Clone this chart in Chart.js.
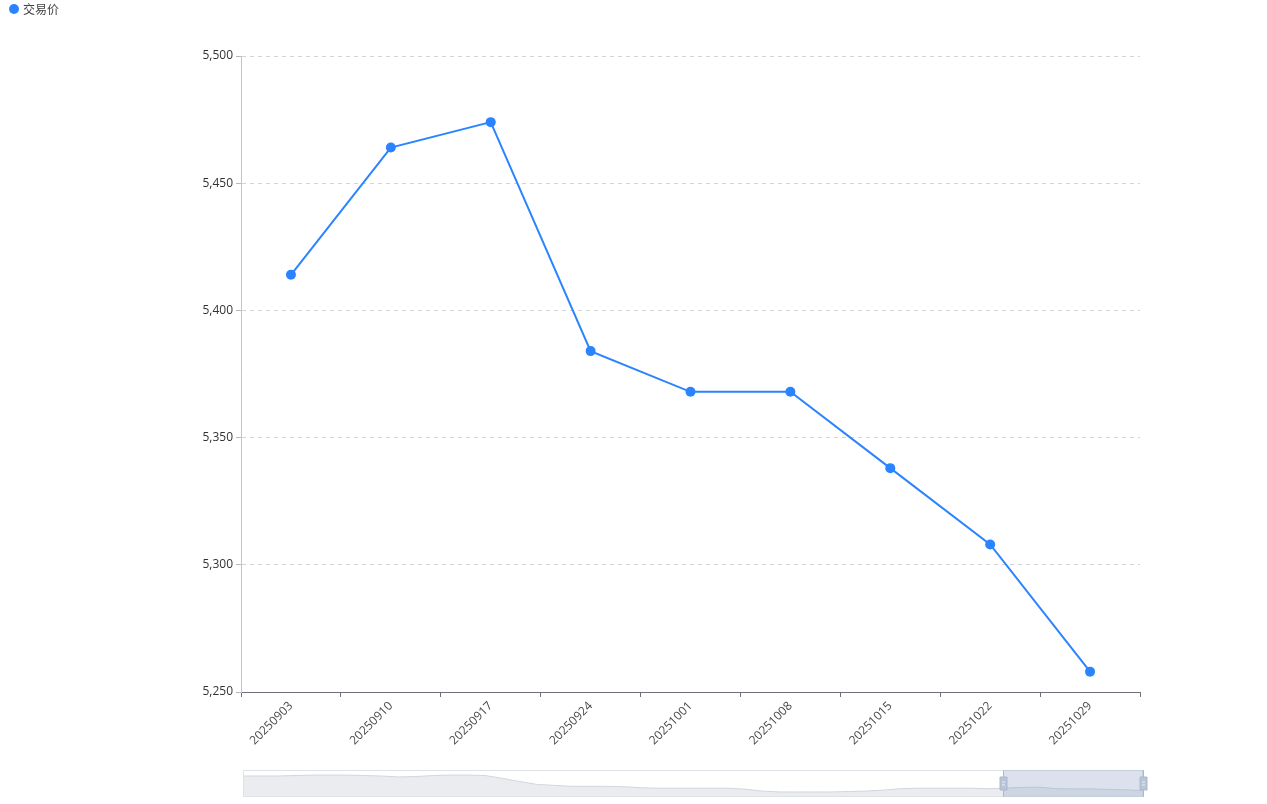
<!DOCTYPE html>
<html>
<head>
<meta charset="utf-8">
<script src="https://cdn.jsdelivr.net/npm/chart.js@4/dist/chart.umd.min.js"></script>
<style>
  html, body { margin: 0; padding: 0; background: #fff; width: 1267px; height: 804px; overflow: hidden; }
  #main { position: absolute; left: 0; top: 0; }
  #overview { position: absolute; left: 238px; top: 768px; z-index: 2; }
  #legend { position: absolute; left: 9px; top: 1px; height: 16px; display: flex; align-items: center;
            font: 12px 'Open Sans', 'Noto Sans CJK SC', sans-serif; color: #444; z-index: 3; }
  #legend .dot { width: 10px; height: 10px; border-radius: 50%; background: #2b84ff; margin-right: 4px; }
</style>
</head>
<body>
<div id="legend"><span class="dot"></span><span id="legendText"></span></div>
<canvas id="main" width="1267" height="804"></canvas>
<canvas id="overview" width="912" height="32"></canvas>
<script>
// ---- data ----
const seriesName = '交易价';
const fullCategories = [
  '20241030','20241106','20241113','20241120','20241127','20241204','20241211','20241218','20241225',
  '20250101','20250108','20250115','20250122','20250129','20250205','20250212','20250219','20250226',
  '20250305','20250312','20250319','20250326','20250402','20250409','20250416','20250423','20250430',
  '20250507','20250514','20250521','20250528','20250604','20250611','20250618','20250625',
  '20250702','20250709','20250716','20250723','20250730','20250806','20250813','20250820','20250827',
  '20250903','20250910','20250917','20250924','20251001','20251008','20251015','20251022','20251029'
];
const fullValues = [
  6180, 6180, 6180, 6210, 6240, 6240, 6240, 6210, 6180, 6120, 6150, 6210, 6240, 6240, 6210, 6030,
  5830, 5650, 5590, 5530, 5530, 5530, 5500, 5440, 5410, 5410, 5410, 5410, 5410, 5350, 5230, 5175,
  5175, 5175, 5175, 5200, 5230, 5290, 5380, 5410, 5410, 5410, 5410, 5380,
  5414, 5464, 5474, 5384, 5368, 5368, 5338, 5308, 5258
];
const windowStart = 44;               // first index shown in the main chart
const yTicks = { min: 5250, max: 5500, step: 50 };

const categories = fullCategories.slice(windowStart);
const values = fullValues.slice(windowStart);

// ---- styling ----
const FONT = "'Open Sans', 'Noto Sans CJK SC', sans-serif";
const BLUE = '#2b84ff';
document.getElementById('legendText').textContent = seriesName;

new Chart(document.getElementById('main'), {
  type: 'line',
  data: {
    labels: categories,
    datasets: [{
      label: seriesName,
      data: values,
      borderColor: BLUE,
      backgroundColor: BLUE,
      borderWidth: 2,
      pointRadius: 5,
      pointBorderWidth: 0,
      pointBackgroundColor: BLUE,
      tension: 0,
      fill: false
    }]
  },
  options: {
    responsive: false,
    animation: false,
    layout: { padding: { left: 0, top: 56, right: 127, bottom: 0 } },
    plugins: { legend: { display: false }, tooltip: { enabled: false } },
    scales: {
      x: {
        type: 'category',
        offset: true,
        grid: { display: true, drawOnChartArea: false, offset: true, tickLength: 5, tickColor: '#6E7079', tickWidth: 1 },
        border: { display: true, color: '#6E7079', width: 1 },
        ticks: { autoSkip: false, minRotation: 45, maxRotation: 45, color: '#4a4a4a', padding: 2,
                 font: { size: 12, family: FONT } },
        afterFit: s => { s.height = 112; }
      },
      y: {
        min: yTicks.min, max: yTicks.max,
        ticks: { stepSize: yTicks.step, color: '#333', padding: 3, font: { size: 12, family: FONT } },
        grid: {
          color: ctx => (ctx.tick && ctx.tick.value === yTicks.min) ? 'rgba(0,0,0,0)' : '#d4d4d4',
          tickColor: '#b8b8b8', tickLength: 5, tickBorderDash: [], lineWidth: 1
        },
        border: { display: true, color: '#c4c4c4', width: 1, dash: [4, 4] },
        afterFit: s => { s.width = 241; }
      }
    }
  }
});

// ---- overview (data zoom slider) ----
const lo = Math.min(...fullValues), hi = Math.max(...fullValues);
const pad = (hi - lo) * 0.3;

const sliderPlugin = {
  id: 'slider',
  afterDatasetsDraw(chart) {
    const { ctx, chartArea: a, scales: { x } } = chart;
    const x0 = x.getPixelForValue(windowStart) - 1.5;
    const x1 = x.getPixelForValue(fullValues.length - 1);
    ctx.save();
    ctx.strokeStyle = '#dfe2e7';
    ctx.lineWidth = 1;
    ctx.strokeRect(a.left + 0.5, a.top + 0.5, a.width - 1, a.height - 1);
    ctx.fillStyle = 'rgba(135,160,200,0.3)';
    ctx.fillRect(x0, a.top, x1 - x0, a.height);
    for (const hx of [x0, x1]) {
      const px = Math.round(hx) + 0.5;
      ctx.strokeStyle = '#acb8d1';
      ctx.beginPath(); ctx.moveTo(px, a.top); ctx.lineTo(px, a.bottom); ctx.stroke();
      const hy = a.top + a.height / 2;
      ctx.fillStyle = '#b9c4d7';
      ctx.strokeStyle = '#acb8d1';
      ctx.beginPath();
      ctx.rect(px - 3.5, hy - 6.5, 7, 13);
      ctx.fill(); ctx.stroke();
      ctx.strokeStyle = '#e8edf5';
      ctx.beginPath();
      ctx.moveTo(px - 1.5, hy - 1.5); ctx.lineTo(px + 1.5, hy - 1.5);
      ctx.moveTo(px - 1.5, hy + 1.5); ctx.lineTo(px + 1.5, hy + 1.5);
      ctx.stroke();
    }
    ctx.restore();
  }
};

new Chart(document.getElementById('overview'), {
  type: 'line',
  data: {
    labels: fullCategories,
    datasets: [{
      data: fullValues,
      borderColor: '#d3d6dc',
      backgroundColor: '#ebecef',
      borderWidth: 1,
      pointRadius: 0,
      tension: 0,
      fill: 'start'
    }]
  },
  options: {
    responsive: false,
    animation: false,
    layout: { padding: { left: 5, right: 7, top: 2, bottom: 3 } },
    plugins: { legend: { display: false }, tooltip: { enabled: false } },
    scales: {
      x: { type: 'category', offset: false, display: false },
      y: { display: false, min: lo - pad, max: hi + pad }
    }
  },
  plugins: [sliderPlugin]
});
</script>
</body>
</html>
